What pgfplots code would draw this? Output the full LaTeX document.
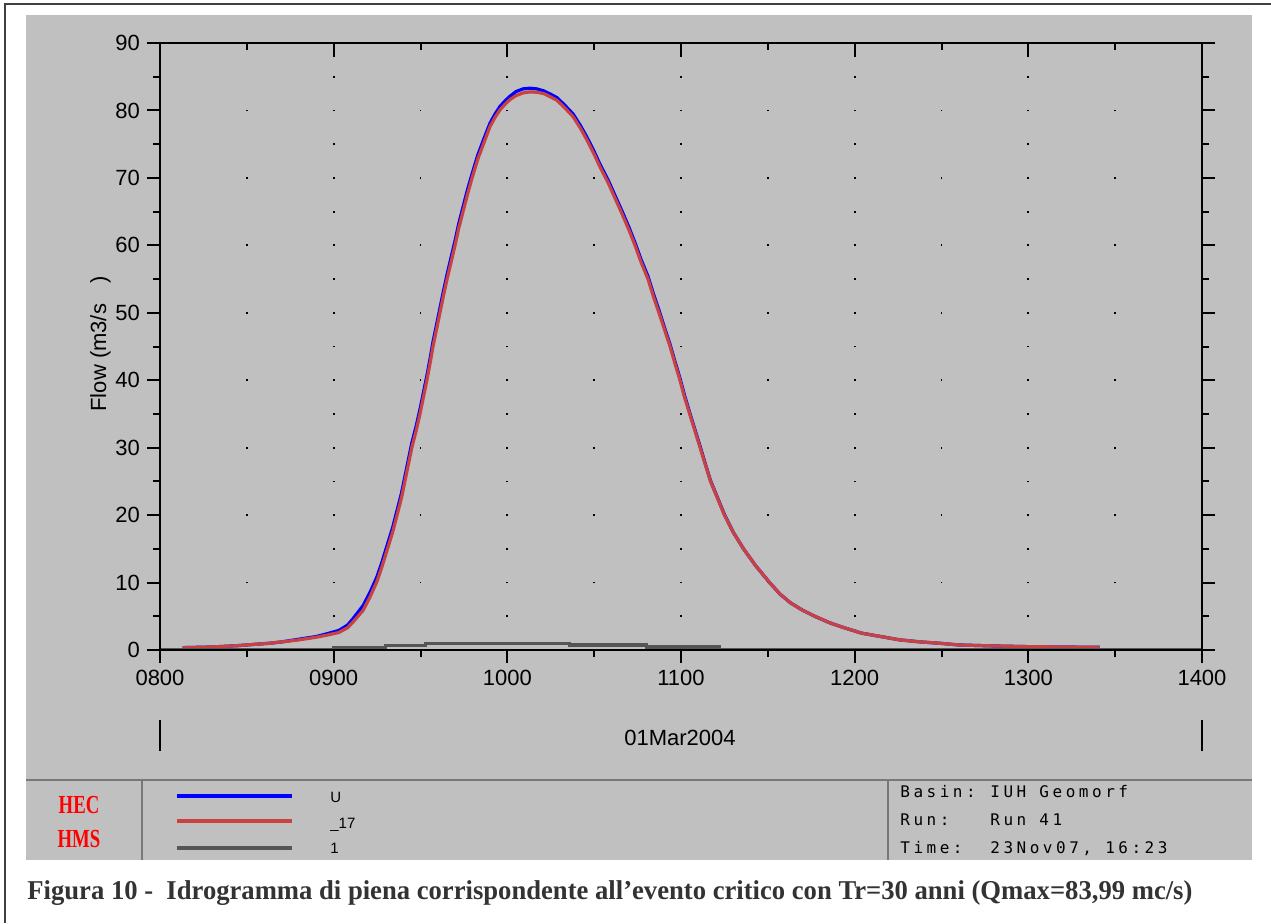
\documentclass[border=0pt]{standalone}
\usepackage{fontspec}
\setmainfont{Liberation Sans}
\newfontfamily\capfont{Liberation Serif}
\newfontfamily\hmsmono[LetterSpace=22]{DejaVu Sans Mono}
\usepackage{graphicx}
\usepackage{pgfplots}
\pgfplotsset{compat=1.18}

\definecolor{panel}{RGB}{192,192,192}
\definecolor{hmsred}{RGB}{200,66,66}
\definecolor{hmsgray}{RGB}{85,85,85}
\definecolor{capgray}{RGB}{51,51,51}
\definecolor{divgray}{RGB}{120,120,120}

\begin{document}
\begin{tikzpicture}
\useasboundingbox (0,0) rectangle (635.5pt,-461.5pt);
\fill[white] (0,0) rectangle (635.5pt,-461.5pt);
\begin{scope}[x=0.5pt,y=-0.5pt]
  \fill[panel] (26,15) rectangle (1252,860);
  \draw[line width=1pt, black!75] (5,923) -- (5,4) -- (1271,4);
\end{scope}

\begin{axis}[
  at={(80pt,-325pt)}, anchor=south west,
  scale only axis, width=521pt, height=303.5pt,
  xmin=8, xmax=14, ymin=0, ymax=90,
  xtick={8,9,...,14}, xticklabels={0800,0900,1000,1100,1200,1300,1400},
  ytick={0,10,...,90},
  minor x tick num=1, minor y tick num=1,
  xtick pos=left, ytick pos=both, yticklabel pos=left,
  tick align=outside,
  major tick length=6.5pt, minor tick length=3.5pt,
  tick style={black, line width=1pt},
  axis line style={black, line width=1pt},
  ticklabel style={font=\fontsize{11}{13}\selectfont},
  /pgf/number format/assume math mode=true,
  xmajorgrids, xminorgrids,
  major x grid style={black, line width=0.9pt, dash pattern=on 0.9pt off 15.96pt, dash phase=0.45pt},
  minor x grid style={black, line width=0.9pt, dash pattern=on 0.9pt off 32.82pt, dash phase=0.45pt},
]
\addplot[blue, line width=1.6pt, mark=none] coordinates {
(8.13,0.35) (8.30,0.45) (8.45,0.65) (8.55,0.85) (8.63,1.0) (8.70,1.2) (8.80,1.6)
(8.90,2.0) (8.96,2.4) (9.03,2.9) (9.08,3.7) (9.11,4.6) (9.14,5.6) (9.17,6.6)
(9.21,8.6) (9.25,10.9) (9.28,13.2) (9.31,15.7) (9.34,18.2) (9.365,20.7)
(9.39,23.2) (9.41,25.7) (9.43,28.2) (9.45,30.7) (9.475,33.2) (9.497,35.7)
(9.517,38.2) (9.537,40.7) (9.555,43.2) (9.572,45.7) (9.592,48.2) (9.612,50.7)
(9.632,53.2) (9.653,55.7) (9.676,58.2) (9.699,60.7) (9.72,63.2) (9.745,65.7)
(9.77,68.2) (9.797,70.6) (9.83,73.4) (9.865,75.8) (9.90,78.1) (9.93,79.5)
(9.958,80.6) (9.99,81.5) (10.015,82.1) (10.05,82.8) (10.09,83.2) (10.13,83.3)
(10.17,83.2) (10.21,82.9) (10.25,82.4) (10.286,81.9) (10.33,80.8) (10.378,79.5)
(10.42,77.8) (10.459,76.0) (10.50,73.9) (10.534,72.0) (10.58,69.7) (10.62,67.4)
(10.66,65.1) (10.70,62.7) (10.735,60.4) (10.77,57.9) (10.81,55.4) (10.84,52.9)
(10.873,50.4) (10.905,47.8) (10.937,45.3) (10.965,42.8) (10.994,40.3) (11.02,37.8)
(11.05,35.2) (11.08,32.7) (11.11,30.2) (11.14,27.6) (11.17,25.1) (11.21,22.6)
(11.25,20.1) (11.30,17.5) (11.36,15) (11.43,12.5) (11.51,10) (11.57,8.3)
(11.63,7.0) (11.70,5.9) (11.77,5.0) (11.86,4.0) (11.94,3.3) (12.04,2.5)
(12.15,2.0) (12.26,1.5) (12.38,1.2) (12.49,1.0) (12.60,0.75) (12.8,0.6)
(13.0,0.5) (13.2,0.45) (13.41,0.4)
};
\addplot[hmsred, line width=1.6pt, mark=none] coordinates {
(8.13,0.35) (8.30,0.45) (8.45,0.65) (8.55,0.85) (8.63,1.0) (8.70,1.2) (8.80,1.5)
(8.90,1.9) (8.96,2.2) (9.03,2.6) (9.08,3.3) (9.11,4.1) (9.14,5.0) (9.17,5.9)
(9.21,7.9) (9.25,10.2) (9.28,12.5) (9.31,15) (9.34,17.5) (9.365,20)
(9.39,22.5) (9.41,25) (9.43,27.5) (9.45,30) (9.475,32.5) (9.497,35)
(9.517,37.5) (9.537,40) (9.555,42.5) (9.572,45) (9.592,47.5) (9.612,50)
(9.632,52.5) (9.653,55) (9.676,57.5) (9.699,60) (9.72,62.5) (9.745,65)
(9.77,67.5) (9.797,70) (9.83,72.8) (9.865,75.2) (9.90,77.6) (9.93,79.0)
(9.958,80.1) (9.99,81.0) (10.015,81.6) (10.05,82.2) (10.09,82.6) (10.13,82.75)
(10.17,82.7) (10.21,82.5) (10.25,82.0) (10.286,81.5) (10.33,80.4) (10.378,79.1)
(10.42,77.4) (10.459,75.6) (10.50,73.5) (10.534,71.6) (10.58,69.3) (10.62,67.0)
(10.66,64.7) (10.70,62.3) (10.735,60) (10.77,57.5) (10.81,55) (10.84,52.5)
(10.873,50) (10.905,47.5) (10.937,45) (10.965,42.5) (10.994,40) (11.02,37.5)
(11.05,35) (11.08,32.5) (11.11,30) (11.14,27.5) (11.17,25) (11.21,22.5)
(11.25,20) (11.30,17.5) (11.36,15) (11.43,12.5) (11.51,10) (11.57,8.3)
(11.63,7.0) (11.70,5.9) (11.77,5.0) (11.86,4.0) (11.94,3.3) (12.04,2.5)
(12.15,2.0) (12.26,1.5) (12.38,1.2) (12.49,1.0) (12.60,0.75) (12.8,0.6)
(13.0,0.5) (13.2,0.45) (13.41,0.4)
};
\addplot[hmsgray, line width=1.6pt, mark=none, const plot] coordinates {
(8.0,0.05) (9.0,0.4) (9.3,0.7) (9.53,1.0) (10.36,0.75) (10.8,0.45) (11.22,0.1) (14.0,0.1)
};
\end{axis}

\begin{axis}[
  at={(80pt,-325pt)}, anchor=south west,
  scale only axis, width=521pt, height=303.5pt,
  xmin=8, xmax=14, ymin=0, ymax=90,
  xtick={8,9,...,14}, minor x tick num=1,
  xtick pos=right, xticklabels={,,,,,,},
  xticklabel style={text opacity=0},
  ytick=\empty,
  tick align=inside,
  major tick length=7pt, minor tick length=3.5pt,
  tick style={black, line width=1pt},
  axis line style={black, line width=1pt},
]
\end{axis}

\begin{scope}[x=0.5pt,y=-0.5pt]
  % x axis date label and bars
  \node[anchor=base, font=\fontsize{11}{13}\selectfont] at (680,745) {01Mar2004};
  \draw[line width=1pt] (160,720) -- (160,751);
  \draw[line width=1pt] (1202,720) -- (1202,751);
  % y label
  \node[rotate=90, anchor=base, font=\fontsize{11}{13}\selectfont] at (106,344) {Flow (m3/s\hspace{10pt})};
  % bottom panel
  \draw[line width=1pt, divgray] (26,780) -- (1252,780);
  \draw[line width=1pt, divgray] (142,780) -- (142,860);
  \draw[line width=1pt, divgray] (888,780) -- (888,860);
  % legend
  \draw[line width=1.6pt, blue] (177,796) -- (292,796);
  \draw[line width=1.6pt, hmsred] (177,821) -- (292,821);
  \draw[line width=1.6pt, hmsgray] (177,848) -- (292,848);
  \node[anchor=base west, inner sep=0pt, font=\fontsize{7.5}{9}\selectfont] at (330,802) {U};
  \node[anchor=base west, inner sep=0pt, font=\fontsize{7.5}{9}\selectfont] at (330,828) {\_17};
  \node[anchor=base west, inner sep=0pt, font=\fontsize{7.5}{9}\selectfont] at (330,853) {1};
  % HEC-HMS logo
  \node[anchor=base, inner sep=0pt, text=red, font=\capfont\bfseries\fontsize{13}{13}\selectfont] at (79,813) {\scalebox{0.72}[1]{HEC}};
  \node[anchor=base, inner sep=0pt, text=red, font=\capfont\bfseries\fontsize{13}{13}\selectfont] at (79,847) {\scalebox{0.72}[1]{HMS}};
  % run info
  \node[anchor=base west, inner sep=0pt, font=\hmsmono\fontsize{8}{9}\selectfont] at (900,797) {Basin:};
  \node[anchor=base west, inner sep=0pt, font=\hmsmono\fontsize{8}{9}\selectfont] at (990,797) {IUH Geomorf};
  \node[anchor=base west, inner sep=0pt, font=\hmsmono\fontsize{8}{9}\selectfont] at (900,825) {Run:};
  \node[anchor=base west, inner sep=0pt, font=\hmsmono\fontsize{8}{9}\selectfont] at (990,825) {Run 41};
  \node[anchor=base west, inner sep=0pt, font=\hmsmono\fontsize{8}{9}\selectfont] at (900,853) {Time:};
  \node[anchor=base west, inner sep=0pt, font=\hmsmono\fontsize{8}{9}\selectfont] at (990,853) {23Nov07, 16:23};
  % caption
  \node[anchor=base west, inner sep=0pt, text=capgray, font=\capfont\bfseries\fontsize{13.6}{15}\selectfont] at (27,899)
    {\resizebox{582.5pt}{\height}{Figura 10 -\ \ Idrogramma di piena corrispondente all’evento critico con Tr=30 anni (Qmax=83,99 mc/s)}};
\end{scope}
\end{tikzpicture}
\end{document}
